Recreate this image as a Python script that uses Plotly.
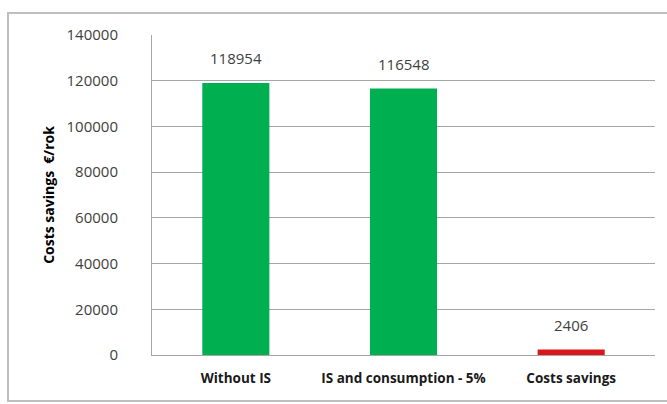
import plotly.graph_objects as go

categories = ["Without IS", "IS and consumption - 5%", "Costs savings"]
values = [118954, 116548, 2406]
bar_colors = ["#00B050", "#00B050", "#D9161C"]
y_ticks = [0, 20000, 40000, 60000, 80000, 100000, 120000, 140000]

FONT = "Open Sans"

fig = go.Figure()
fig.add_trace(go.Bar(
    x=categories,
    y=values,
    marker=dict(color=bar_colors, line=dict(width=0)),
    width=0.4,
    showlegend=False,
    hoverinfo="x+y",
))

for c, v in zip(categories, values):
    fig.add_annotation(
        x=c, y=v, text=str(v), showarrow=False,
        yanchor="bottom", yshift=13,
        font=dict(family=FONT, size=15, color="#404040"),
    )

fig.update_layout(
    width=667, height=404,
    margin=dict(l=152, r=12, t=35, b=49),
    paper_bgcolor="white",
    plot_bgcolor="white",
    font=dict(family=FONT, color="#404040"),
    xaxis=dict(
        showgrid=False,
        showline=True, linecolor="#A6A6A6", linewidth=1,
        ticks="", tickfont=dict(family=FONT, size=13.5, color="#1a1a1a", weight="bold"),
        ticklabelstandoff=11,
    ),
    yaxis=dict(
        range=[0, 140000],
        tickvals=y_ticks,
        ticktext=[str(t) for t in y_ticks],
        showgrid=True, gridcolor="#A6A6A6", gridwidth=1,
        showline=True, linecolor="#A6A6A6", linewidth=1,
        zeroline=False,
        ticks="", tickfont=dict(family=FONT, size=15, color="#404040"),
        ticklabelstandoff=30,
        title=dict(text="Costs savings  €/rok",
                   font=dict(family=FONT, size=14, color="#000000", weight="bold"),
                   standoff=8),
    ),
    shapes=[dict(
        type="rect", xref="paper", yref="paper",
        x0=(8 - 152) / 503, x1=(675 - 152) / 503,
        y0=(355 - 401) / 320, y1=(355 - 13) / 320,
        line=dict(color="#BFBFBF", width=2), fillcolor="rgba(0,0,0,0)",
        layer="below",
    )],
)

fig.write_html("out.html")
